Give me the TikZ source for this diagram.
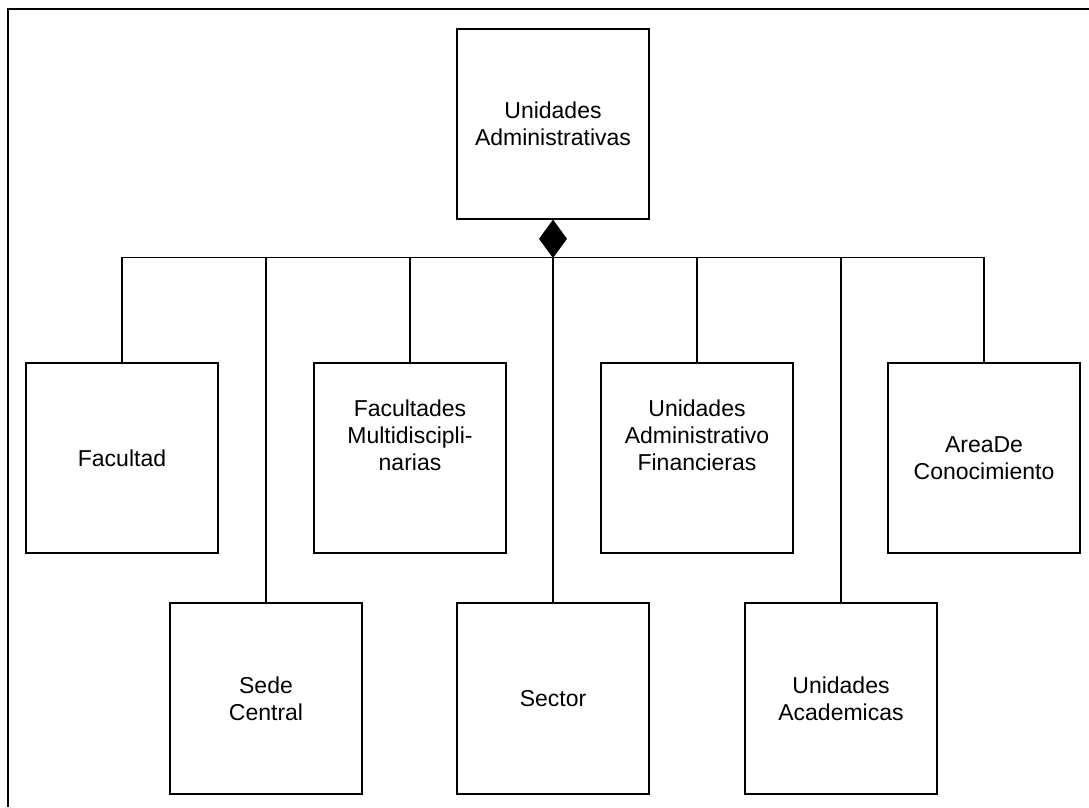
\documentclass[tikz,border=0pt]{standalone}
\usepackage{fontspec}
\setmainfont{Liberation Sans}
\begin{document}
\begin{tikzpicture}[x=0.75pt,y=-0.75pt,
  entity/.style={draw,line width=1.5pt,minimum width=144pt,minimum height=143pt,
    inner sep=0pt,align=center,font=\fontsize{17.25}{20.25}\selectfont},
  threeline/.style={text depth=34.5pt},
  link/.style={line width=0.8pt},
  comp/.style={fill=black,draw=black,line width=0.6pt}]
\useasboundingbox (0,0) rectangle (1089,807);
% frame (clipped view)
\draw[line width=1.5pt] (8,807) -- (8,9) -- (1089,9);
% nodes
\node[entity] (ua) at (553,124) {Unidades\\Administrativas};
\node[entity] (fac) at (122,458) {Facultad};
\node[entity] (sc) at (266,698.5) {Sede\\Central};
\node[entity,threeline] (fm) at (410,458) {Facultades\\Multidiscipli-\\narias};
\node[entity] (sec) at (553,698.5) {Sector};
\node[entity,threeline] (uaf) at (697,458) {Unidades\\Administrativo\\Financieras};
\node[entity] (uac) at (841,698.5) {Unidades\\Academicas};
\node[entity] (adc) at (984,458) {AreaDe\\Conocimiento};
% composition diamond
\coordinate (dtop) at (ua.south);
\coordinate (dbot) at ([yshift=-27.75pt]ua.south);
\draw[comp] (dtop) -- ++(-10.1pt,-13.9pt) -- (dbot) -- ++(10.1pt,13.9pt) -- cycle;
% connectors
\foreach \c in {fac,sc,fm,uaf,uac,adc}
  \draw[link] (dbot) -| (\c.north);
\draw[link] (dbot) -- (sec.north);
\end{tikzpicture}
\end{document}
